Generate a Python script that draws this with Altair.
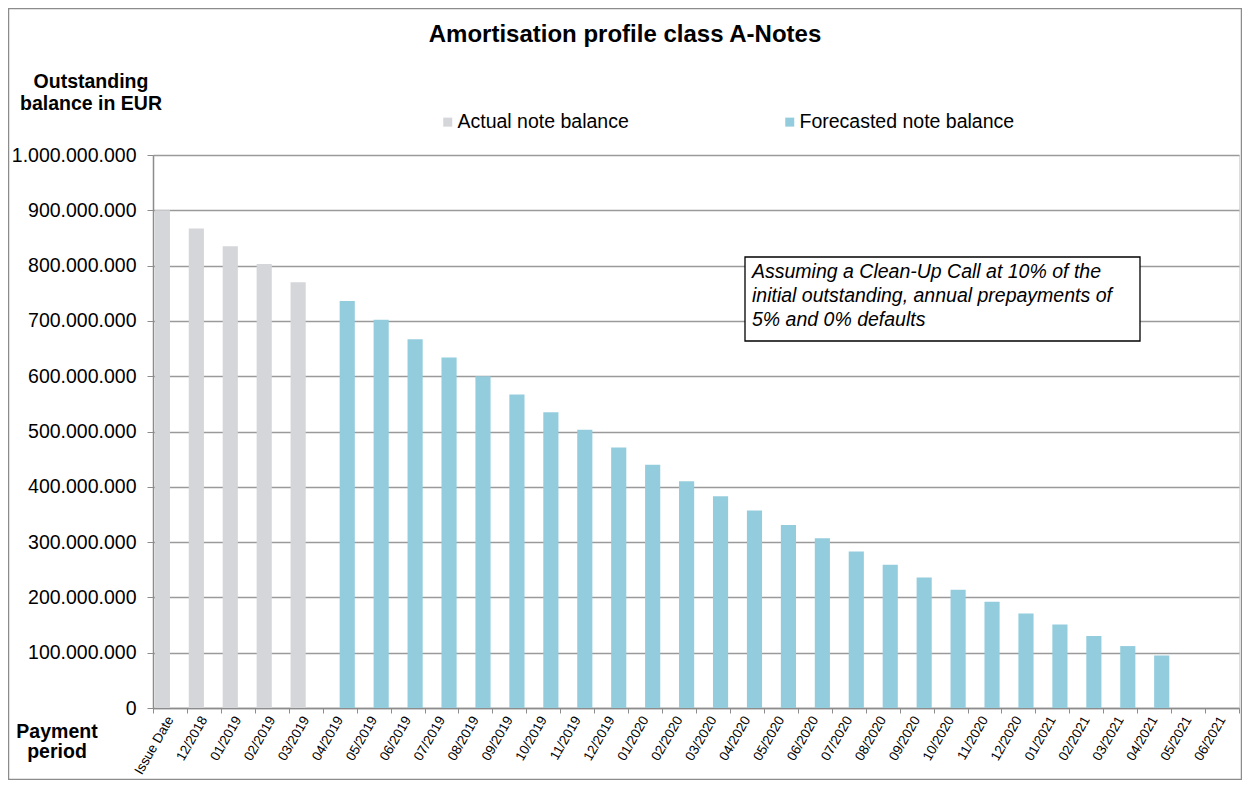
import altair as alt
import pandas as pd

categories = ["Issue Date", "12/2018",
              "01/2019", "02/2019", "03/2019", "04/2019", "05/2019", "06/2019",
              "07/2019", "08/2019", "09/2019", "10/2019", "11/2019", "12/2019",
              "01/2020", "02/2020", "03/2020", "04/2020", "05/2020", "06/2020",
              "07/2020", "08/2020", "09/2020", "10/2020", "11/2020", "12/2020",
              "01/2021", "02/2021", "03/2021", "04/2021", "05/2021", "06/2021"]

# values in million EUR (None = no bar)
actual = [900, 867, 835, 803, 770] + [None] * 27
forecast = ([None] * 5 +
            [736, 702, 667, 634, 600, 567, 535, 503, 471,
             440, 410, 383, 357, 331, 307, 283, 259, 236, 214, 192, 171,
             151, 130, 112, 95] + [None, None])

series_names = ["Actual note balance", "Forecasted note balance"]
series_colors = ["#D5D6DA", "#93CDDD"]

rows = []
for c, a, f in zip(categories, actual, forecast):
    if a is not None:
        rows.append({"period": c, "series": series_names[0], "value": a * 1e6})
    if f is not None:
        rows.append({"period": c, "series": series_names[1], "value": f * 1e6})
df = pd.DataFrame(rows)

FONT = "Liberation Sans"
W, H = 1086, 553

bars = alt.Chart(df).mark_bar().encode(
    x=alt.X("period:N", sort=categories,
            scale=alt.Scale(domain=categories, paddingInner=0, paddingOuter=0),
            axis=alt.Axis(title=None, labelAngle=-60, labelAlign="right",
                          labelBaseline="middle", labelFontSize=13.5,
                          labelFont=FONT, labelColor="black", labelPadding=4,
                          tickBand="extent", tickSize=5, tickColor="#8c8c8c",
                          domainColor="#8c8c8c", domainWidth=1.5, grid=False)),
    xOffset=alt.XOffset("series:N",
                        scale=alt.Scale(domain=series_names, paddingInner=0,
                                        paddingOuter=0.12)),
    y=alt.Y("value:Q",
            scale=alt.Scale(domain=[0, 1e9], nice=False),
            axis=alt.Axis(title=None, values=[i * 1e8 for i in range(11)],
                          labelExpr="replace(format(datum.value, ','), regexp(',', 'g'), '.')",
                          labelFontSize=19.5, labelFont=FONT, labelColor="black",
                          labelPadding=11, tickSize=6, tickColor="#8c8c8c",
                          domainColor="#8c8c8c", domainWidth=1.5,
                          grid=True, gridColor="#9a9a9a", gridWidth=1.5)),
    color=alt.Color("series:N",
                    scale=alt.Scale(domain=series_names, range=series_colors),
                    legend=alt.Legend(title=None, orient="none", legendX=285,
                                      legendY=-43, direction="horizontal",
                                      symbolType="square", symbolSize=81,
                                      symbolStrokeWidth=0, labelFontSize=19.5,
                                      labelFont=FONT, labelColor="black",
                                      labelOffset=0, columnPadding=151,
                                      labelLimit=400, padding=0)),
)

one = pd.DataFrame({"a": [0]})

border = alt.Chart(one).mark_rect(filled=False, stroke="#8c8c8c", strokeWidth=1.5).encode(
    x=alt.value(-144.5), x2=alt.value(1088.5),
    y=alt.value(-146.5), y2=alt.value(624.5))

note_box = alt.Chart(one).mark_rect(fill="white", stroke="black", strokeWidth=1.3).encode(
    x=alt.value(592), x2=alt.value(987), y=alt.value(102), y2=alt.value(186))

note_text = alt.Chart(one).mark_text(
    text=["Assuming a Clean-Up Call at 10% of the",
          "initial outstanding, annual prepayments of",
          "5% and 0% defaults"],
    font=FONT, fontSize=19.5, fontStyle="italic", align="left",
    baseline="alphabetic", lineHeight=24, color="black").encode(
    x=alt.value(599), y=alt.value(123))

title = alt.Chart(one).mark_text(
    text="Amortisation profile class A-Notes", font=FONT, fontSize=24,
    fontWeight="bold", align="center", baseline="alphabetic", color="black").encode(
    x=alt.value(472), y=alt.value(-113))

ytitle = alt.Chart(one).mark_text(
    text=["Outstanding", "balance in EUR"], font=FONT, fontSize=19.5,
    fontWeight="bold", align="center", baseline="alphabetic", lineHeight=22,
    color="black").encode(x=alt.value(-62), y=alt.value(-67))

xtitle = alt.Chart(one).mark_text(
    text=["Payment", "period"], font=FONT, fontSize=19.5,
    fontWeight="bold", align="center", baseline="alphabetic", lineHeight=20,
    color="black").encode(x=alt.value(-96), y=alt.value(583))

chart = alt.layer(bars, border, note_box, note_text, title, ytitle, xtitle).properties(
    width=W, height=H,
    autosize=alt.AutoSizeParams(type="none"),
    padding={"left": 145, "top": 147, "right": 3, "bottom": 72},
    background="white",
).configure_view(stroke=None).configure(font=FONT)

chart.save("out.html", embed_options={"renderer": "svg", "actions": False})
